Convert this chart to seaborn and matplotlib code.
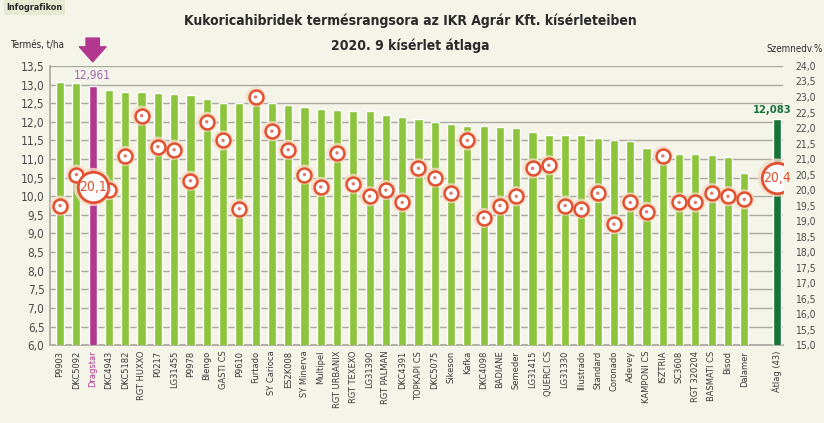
import matplotlib
matplotlib.use("Agg")
import matplotlib.pyplot as plt
from matplotlib.ticker import FuncFormatter, MultipleLocator
import seaborn as sns
import pandas as pd

# hybrids in rank order (t/ha yield and grain moisture %)
hybrids = ["P9903", "DKC5092", "Dragstar", "DKC4943", "DKC5182", "RGT HUXXO", "P0217",
           "LG31455", "P9978", "Blengo", "GASTI CS", "P9610", "Furtado", "SY Carioca",
           "ES2K008", "SY Minerva", "Multipel", "RGT URBANIX", "RGT TEXEXO", "LG31390",
           "RGT PALMAN", "DKC4391", "TOPKAPI CS", "DKC5075", "Sikeson", "Kafka",
           "DKC4098", "BADIANE", "Semeder", "LG31415", "QUERCI CS", "LG31330",
           "Illustrado", "Standard", "Coronado", "Adevey", "KAMPONI CS", "ISZTRIA",
           "SC3608", "RGT 320204", "BASMATI CS", "Bisod", "Dalamer"]
yield_t = [13.08, 13.03, 12.961, 12.85, 12.81, 12.79, 12.77, 12.74, 12.72, 12.62,
           12.51, 12.51, 12.51, 12.50, 12.45, 12.41, 12.34, 12.32, 12.28, 12.28,
           12.18, 12.12, 12.08, 11.99, 11.93, 11.90, 11.90, 11.85, 11.83, 11.72,
           11.65, 11.65, 11.64, 11.56, 11.51, 11.49, 11.29, 11.25, 11.13, 11.13,
           11.11, 11.05, 10.62]
moisture = [19.5, 20.5, 20.1, 20.0, 21.1, 22.4, 21.4, 21.3, 20.3, 22.2,
            21.6, 19.4, 23.0, 21.9, 21.3, 20.5, 20.1, 21.2, 20.2, 19.8,
            20.0, 19.6, 20.7, 20.4, 19.9, 21.6, 19.1, 19.5, 19.8, 20.7,
            20.8, 19.5, 19.4, 19.9, 18.9, 19.6, 19.3, 21.1, 19.6, 19.6,
            19.9, 19.8, 19.7]
avg_label = "Átlag (43)"
avg_yield = 12.083
avg_moist = 20.4
highlight = "Dragstar"

bg = "#f4f4e8"
green = "#8cc43c"
magenta = "#b2388f"
dark = "#17733a"
red = "#e2512f"

sns.set_theme(style="white")
plt.rcParams["font.family"] = ["DejaVu Sans"]
plt.rcParams["font.stretch"] = "condensed"

df = pd.DataFrame({"hibrid": hybrids + [avg_label],
                   "termes": yield_t + [avg_yield],
                   "nedv": moisture + [avg_moist]})
order = hybrids + [" ", avg_label]
colors = {h: green for h in hybrids}
colors[highlight] = magenta
colors[avg_label] = dark

fig = plt.figure(figsize=(8.24, 4.23), dpi=100, facecolor=bg)
ax = fig.add_axes([0.0607, 0.184, 0.889, 0.660])
ax.set_facecolor(bg)

sns.barplot(data=df, x="hibrid", y="termes", hue="hibrid", palette=colors, order=order,
            width=0.5, saturation=1, legend=False, ax=ax, zorder=3)
ax.set_ylim(6, 13.5)
ax.set_xlim(-0.62, 44.35)
ax.yaxis.set_major_locator(MultipleLocator(0.5))
ax.yaxis.set_major_formatter(FuncFormatter(lambda v, p: f"{v:.1f}".replace(".", ",")))
ax.grid(axis="y", color="#a9a9a2", lw=1.0, zorder=0)
ax.set_xlabel("")
ax.set_ylabel("")
for s in ["right", "top"]:
    ax.spines[s].set_visible(False)
ax.spines["left"].set_color("#a9a9a2")
ax.spines["bottom"].set_color("#a9a9a2")
ax.tick_params(axis="y", length=0, labelsize=8.5, labelcolor="#4a4a4a", pad=4)
ax.tick_params(axis="x", length=0, labelsize=6.7, labelcolor="#3a3a3a", rotation=90, pad=4)
for lab in ax.get_xticklabels():
    if lab.get_text() == highlight:
        lab.set_color(magenta)

# moisture on right axis
ax2 = ax.twinx()
ax2.set_ylim(15, 24)
ax2.yaxis.set_major_locator(MultipleLocator(0.5))
ax2.yaxis.set_major_formatter(FuncFormatter(lambda v, p: f"{v:.1f}".replace(".", ",")))
ax2.tick_params(axis="y", length=0, labelsize=7.5, labelcolor="#4a4a4a", pad=9)
for s in ax2.spines.values():
    s.set_visible(False)

df["pos"] = [order.index(h) for h in df["hibrid"]]
small = df[~df["hibrid"].isin([highlight, avg_label])]
big = df[df["hibrid"].isin([highlight, avg_label])]

sns.scatterplot(data=small, x="pos", y="nedv", s=210, color="#f6dcc8", edgecolor="none",
                alpha=0.8, ax=ax2, zorder=4)
sns.scatterplot(data=small, x="pos", y="nedv", s=100, color="white", edgecolor=red,
                linewidth=1.8, ax=ax2, zorder=5)
sns.scatterplot(data=small, x="pos", y="nedv", s=6, color="#e07a6a", edgecolor="none",
                ax=ax2, zorder=6)
sns.scatterplot(data=big, x="pos", y="nedv", s=760, color="#f6dcc8", edgecolor="none",
                alpha=0.8, ax=ax2, zorder=4)
sns.scatterplot(data=big, x="pos", y="nedv", s=480, color="white", edgecolor=red,
                linewidth=2, ax=ax2, zorder=5)
for _, r in big.iterrows():
    ax2.text(r["pos"], r["nedv"], f"{r['nedv']:.1f}".replace(".", ","), ha="center",
             va="center", fontsize=10, color=red, zorder=7)
ax2.set_xlabel("")
ax2.set_ylabel("")
ax2.set_xlim(-0.62, 44.35)

# value labels and arrow
hi_pos = order.index(highlight)
av_pos = order.index(avg_label)
ax.text(hi_pos, 13.25, f"{yield_t[hybrids.index(highlight)]:.3f}".replace(".", ","),
        ha="center", va="center", fontsize=8.5, color="#a066b0", zorder=6)
ax.text(av_pos - 0.3, 12.33, f"{avg_yield:.3f}".replace(".", ","), ha="center", va="center",
        fontsize=8, color=dark, weight="bold", zorder=6)
ax.annotate("", xy=(hi_pos, 1.005), xycoords=("data", "axes fraction"),
            xytext=(hi_pos, 1.11), textcoords=("data", "axes fraction"),
            arrowprops=dict(arrowstyle="simple,head_width=1.6,head_length=0.9,tail_width=0.8",
                            color=magenta, mutation_scale=12), annotation_clip=False)

fig.text(0.498, 0.952, "Kukoricahibridek termésrangsora az IKR Agrár Kft. kísérleteiben",
         ha="center", va="center", fontsize=10, weight="bold", color="#2a2a2a")
fig.text(0.498, 0.893, "2020. 9 kísérlet átlaga", ha="center", va="center",
         fontsize=10, weight="bold", color="#2a2a2a")
fig.text(0.012, 0.893, "Termés, t/ha", ha="left", va="center", fontsize=7, color="#2a2a2a")
fig.text(0.998, 0.885, "Szemnedv.%", ha="right", va="center", fontsize=7, color="#2a2a2a")
fig.text(0.008, 0.982, "Infografikon", ha="left", va="center", fontsize=6.5, weight="bold",
         color="#2a2a2a", bbox=dict(boxstyle="square,pad=0.3", fc="#e6ead2", ec="none"))

fig.savefig("out.png", dpi=100, facecolor=bg)
